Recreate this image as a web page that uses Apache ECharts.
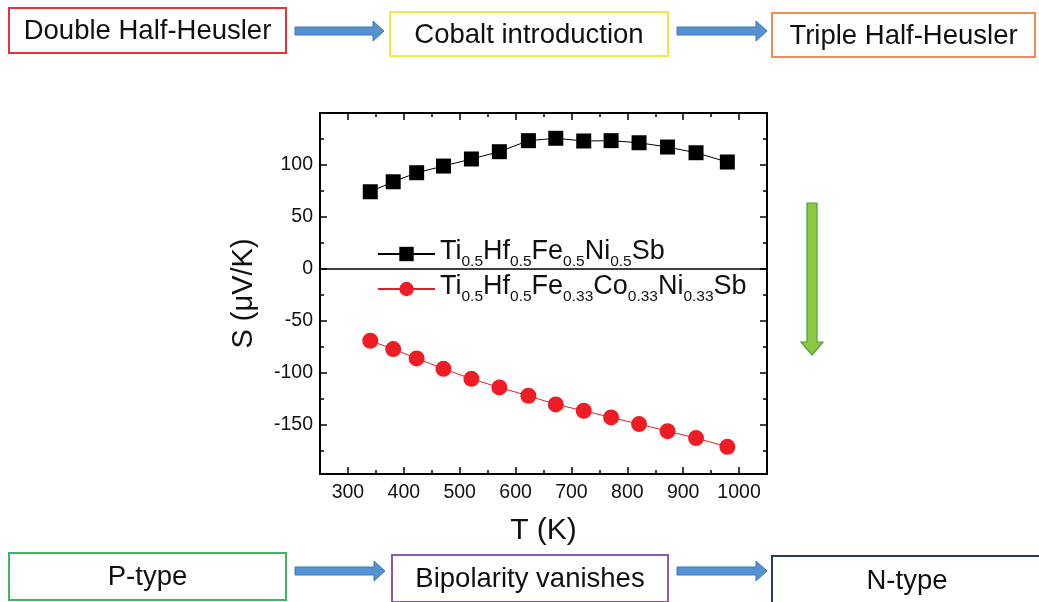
<!DOCTYPE html>
<html>
<head>
<meta charset="utf-8">
<script src="https://cdn.jsdelivr.net/npm/echarts@6/dist/echarts.min.js"></script>
<style>html,body{margin:0;padding:0;background:#fff;}#c{width:1039px;height:602px;}</style>
</head>
<body>
<div id="c"></div>
<script>
// ---- data ----
const temperatures = [340, 381, 423, 471, 521, 571, 623, 672, 722, 771, 821, 872, 923, 979];
const seebeckDouble = [74.3, 83.9, 92.6, 99.0, 105.8, 112.8, 123.4, 125.7, 123.1, 123.4, 121.4, 117.3, 111.8, 102.9];
const seebeckTriple = [-68.9, -76.9, -85.9, -95.9, -105.5, -113.8, -121.8, -130.1, -136.2, -142.6, -149.0, -155.8, -162.5, -170.9];
const seriesNames = ['Ti0.5Hf0.5Fe0.5Ni0.5Sb', 'Ti0.5Hf0.5Fe0.33Co0.33Ni0.33Sb'];
const legendParts = [
  [['Ti','0.5'],['Hf','0.5'],['Fe','0.5'],['Ni','0.5'],['Sb','']],
  [['Ti','0.5'],['Hf','0.5'],['Fe','0.33'],['Co','0.33'],['Ni','0.33'],['Sb','']]
];
const xTickLabels = [300, 400, 500, 600, 700, 800, 900, 1000];
const xMinorTicks = [350, 450, 550, 650, 750, 850, 950];
const yTickLabels = [-150, -100, -50, 0, 50, 100];
const yMinorTicks = [-175, -125, -75, -25, 25, 75, 125];
const topBoxes = ['Double Half-Heusler', 'Cobalt introduction', 'Triple Half-Heusler'];
const bottomBoxes = ['P-type', 'Bipolarity vanishes', 'N-type'];

// ---- build ----
const FONT = '"Liberation Sans", Arial, sans-serif';
const chart = echarts.init(document.getElementById('c'), null, {renderer: 'canvas'});

function pairs(ys) { return temperatures.map((t, i) => [t, ys[i]]); }
function richName(idx) {
  return legendParts[idx].map(p => '{n|' + p[0] + '}' + (p[1] ? '{s|' + p[1] + '}' : '')).join('');
}

const boxLayoutTop = [
  {x: 9, y: 8, w: 277, h: 45, color: '#e2343c'},
  {x: 390, y: 12, w: 278, h: 44, color: '#f3e64c'},
  {x: 772, y: 13, w: 263, h: 44, color: '#ef8c55'}
];
const boxLayoutBottom = [
  {x: 9, y: 553, w: 277, h: 47, color: '#3eb55e'},
  {x: 392, y: 555, w: 276, h: 47, color: '#8c58b2'},
  {x: 772, y: 556, w: 270, h: 48, color: '#243b68'}
];
const arrowLayout = [[295, 384, 31], [677, 767, 31], [295, 385, 571], [677, 767, 571]];

const graphics = [];
function addBoxes(labels, layout) {
  labels.forEach((lab, i) => {
    const b = layout[i];
    graphics.push({type: 'rect', shape: {x: b.x, y: b.y, width: b.w, height: b.h},
      style: {fill: '#fff', stroke: b.color, lineWidth: 2}, z: 10});
    graphics.push({type: 'text', x: b.x + b.w / 2, y: b.y + b.h / 2 + 1,
      style: {text: lab, font: '27.5px ' + FONT, fill: '#111', textAlign: 'center', textVerticalAlign: 'middle'}, z: 11});
  });
}
addBoxes(topBoxes, boxLayoutTop);
addBoxes(bottomBoxes, boxLayoutBottom);
arrowLayout.forEach(a => {
  const [x0, x1, cy] = a;
  graphics.push({type: 'polygon', shape: {points: [[x0, cy - 4], [x1 - 11, cy - 4], [x1 - 11, cy - 10], [x1, cy], [x1 - 11, cy + 10], [x1 - 11, cy + 4], [x0, cy + 4]]},
    style: {fill: '#5592d2', stroke: '#3e78b8', lineWidth: 1}, z: 10});
});
graphics.push({type: 'polygon', shape: {points: [[807, 203], [817, 203], [817, 342], [823, 342], [812, 355], [801, 342], [807, 342]]},
  style: {fill: '#8dc940', stroke: '#4c9f3a', lineWidth: 1.2}, z: 10});

function axisLine(main) {
  return main ? {show: true, onZero: false, lineStyle: {color: '#000', width: 2}} : {show: false, onZero: false};
}
function xAx(pos, ticks, len, main) {
  return {
    type: 'value', min: 250, max: 1050, position: pos,
    axisLine: axisLine(main),
    splitLine: {show: false},
    axisTick: {show: true, inside: true, length: len, customValues: ticks, lineStyle: {color: '#000', width: 1.5}},
    axisLabel: pos === 'bottom' && main
      ? {show: true, customValues: ticks, fontSize: 19.5, fontFamily: FONT, color: '#111', margin: 9, formatter: v => String(v)}
      : {show: false, customValues: ticks},
    name: pos === 'bottom' && main ? 'T (K)' : '',
    nameLocation: 'middle', nameGap: 42,
    nameTextStyle: {fontSize: 30, fontFamily: FONT, color: '#111'}
  };
}
function yAx(pos, ticks, len, main) {
  return {
    type: 'value', min: -197, max: 150, position: pos,
    axisLine: axisLine(main),
    splitLine: {show: false},
    axisTick: {show: true, inside: true, length: len, customValues: ticks, lineStyle: {color: '#000', width: 1.5}},
    axisLabel: pos === 'left' && main
      ? {show: true, customValues: ticks, fontSize: 19.5, fontFamily: FONT, color: '#111', margin: 7, formatter: v => String(v)}
      : {show: false, customValues: ticks},
    name: pos === 'left' && main ? 'S (\u03bcV/K)' : '',
    nameLocation: 'middle', nameGap: 62,
    nameTextStyle: {fontSize: 29, fontFamily: FONT, color: '#111'}
  };
}

const option = {
  animation: false,
  backgroundColor: '#fff',
  grid: {left: 320, right: 272, top: 113, bottom: 128, containLabel: false, outerBoundsMode: 'none'},
  xAxis: [
    xAx('bottom', xTickLabels, 7, true),
    xAx('bottom', xMinorTicks, 4, false),
    xAx('top', xTickLabels, 7, true),
    xAx('top', xMinorTicks, 4, false)
  ],
  yAxis: [
    yAx('left', yTickLabels, 7, true),
    yAx('left', yMinorTicks, 4, false),
    yAx('right', yTickLabels, 7, true),
    yAx('right', yMinorTicks, 4, false)
  ],
  legend: {
    orient: 'vertical', left: 377, top: 238, padding: 0, itemGap: 3,
    itemWidth: 57, itemHeight: 18,
    data: seriesNames,
    formatter: function (name) { return richName(seriesNames.indexOf(name)); },
    textStyle: {
      fontFamily: FONT, color: '#111', fontSize: 27,
      rich: {
        n: {fontSize: 27, fontFamily: FONT, color: '#111', verticalAlign: 'bottom', padding: [0, 0, 5, 0]},
        s: {fontSize: 15.5, fontFamily: FONT, color: '#111', verticalAlign: 'bottom'}
      }
    }
  },
  graphic: graphics,
  series: [
    {
      name: seriesNames[0], type: 'line', xAxisIndex: 0, yAxisIndex: 0,
      data: pairs(seebeckDouble), symbol: 'rect', symbolSize: 15,
      itemStyle: {color: '#000'}, lineStyle: {color: '#000', width: 1},
      markLine: {silent: true, symbol: ['none', 'none'], label: {show: false},
        lineStyle: {color: '#000', width: 1.5, type: 'solid'}, data: [{yAxis: 0}]}
    },
    {
      name: seriesNames[1], type: 'line', xAxisIndex: 0, yAxisIndex: 0,
      data: pairs(seebeckTriple), symbol: 'circle', symbolSize: 16,
      itemStyle: {color: '#ee1c25'}, lineStyle: {color: '#d8232a', width: 1}
    }
  ]
};
chart.setOption(option);
</script>
</body>
</html>
